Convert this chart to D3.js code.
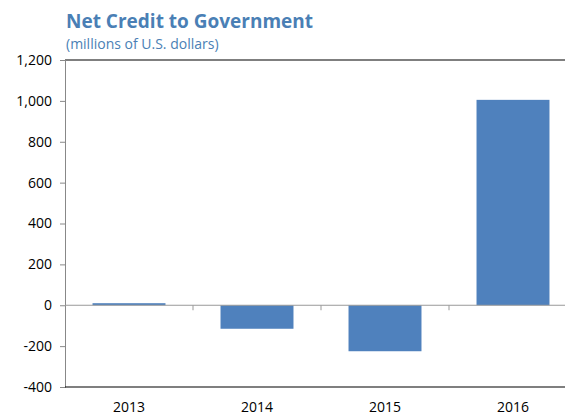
<!DOCTYPE html>
<html>
<head>
<meta charset="utf-8">
<script src="https://cdn.jsdelivr.net/npm/d3@7/dist/d3.min.js"></script>
<style>
  html, body { margin: 0; padding: 0; background: #fff; }
  svg { display: block; font-family: "Open Sans", "Noto Sans", sans-serif; }
</style>
</head>
<body>
<svg id="chart" width="565" height="415"></svg>
<script>
// Net credit to government, millions of U.S. dollars
const years = ["2013", "2014", "2015", "2016"];
const netCredit = [10, -115, -225, 1005];
const yTicks = [-400, -200, 0, 200, 400, 600, 800, 1000, 1200];

const svg = d3.select("#chart");
const margin = { left: 65, right: -12, top: 60, bottom: 28 };
const W = 565, H = 415;

const x = d3.scaleBand()
  .domain(years)
  .range([margin.left, W - margin.right])
  .paddingInner(0.43)
  .paddingOuter(0.215);

const y = d3.scaleLinear()
  .domain([-400, 1200])
  .range([H - margin.bottom, margin.top]);

// Thousands separator with a plain hyphen for negatives
const fmt = d => d3.format(",")(d).replace("\u2212", "-");

// Title block
svg.append("text")
  .attr("x", 66).attr("y", 28)
  .attr("fill", "#4a7fb5")
  .attr("font-weight", 700)
  .attr("font-size", 19)
  .text("Net Credit to Government");
svg.append("text")
  .attr("x", 66).attr("y", 49)
  .attr("fill", "#4a7fb5")
  .attr("font-size", 14)
  .text("(millions of U.S. dollars)");

// Top frame line
svg.append("line")
  .attr("x1", margin.left).attr("x2", W)
  .attr("y1", y(1200)).attr("y2", y(1200))
  .attr("stroke", "#000").attr("stroke-width", 1.2);

// Left value axis
const yAxis = d3.axisLeft(y)
  .tickValues(yTicks)
  .tickSize(5)
  .tickPadding(8)
  .tickFormat(fmt);
const gy = svg.append("g")
  .attr("transform", `translate(${margin.left},0)`)
  .call(yAxis);
gy.select(".domain").attr("stroke", "#888");
gy.selectAll(".tick line").attr("stroke", "#888");
gy.selectAll(".tick text")
  .attr("font-size", 14)
  .attr("fill", "#000")
  .attr("font-family", "Open Sans, sans-serif");

// Bars
svg.append("g").selectAll("rect")
  .data(years.map((yr, i) => ({ yr, v: netCredit[i] })))
  .join("rect")
  .attr("x", d => x(d.yr))
  .attr("width", x.bandwidth())
  .attr("y", d => y(Math.max(0, d.v)))
  .attr("height", d => Math.abs(y(d.v) - y(0)))
  .attr("fill", "#4f81bd");

// Zero line with category boundary ticks
const step = x.step();
const bounds = years.slice(1).map(yr => x(yr) - x.paddingInner() * step / 2);
svg.append("line")
  .attr("x1", margin.left).attr("x2", W)
  .attr("y1", y(0)).attr("y2", y(0))
  .attr("stroke", "#999");
svg.append("g").selectAll("line")
  .data(bounds)
  .join("line")
  .attr("x1", d => d).attr("x2", d => d)
  .attr("y1", y(0)).attr("y2", y(0) + 5)
  .attr("stroke", "#999");

// Bottom frame line
svg.append("line")
  .attr("x1", margin.left).attr("x2", W)
  .attr("y1", y(-400)).attr("y2", y(-400))
  .attr("stroke", "#000").attr("stroke-width", 1.2);

// Category labels
svg.append("g").selectAll("text")
  .data(years)
  .join("text")
  .attr("x", d => x(d) + x.bandwidth() / 2)
  .attr("y", H - 3)
  .attr("text-anchor", "middle")
  .attr("font-size", 14)
  .attr("fill", "#000")
  .text(d => d);
</script>
</body>
</html>
